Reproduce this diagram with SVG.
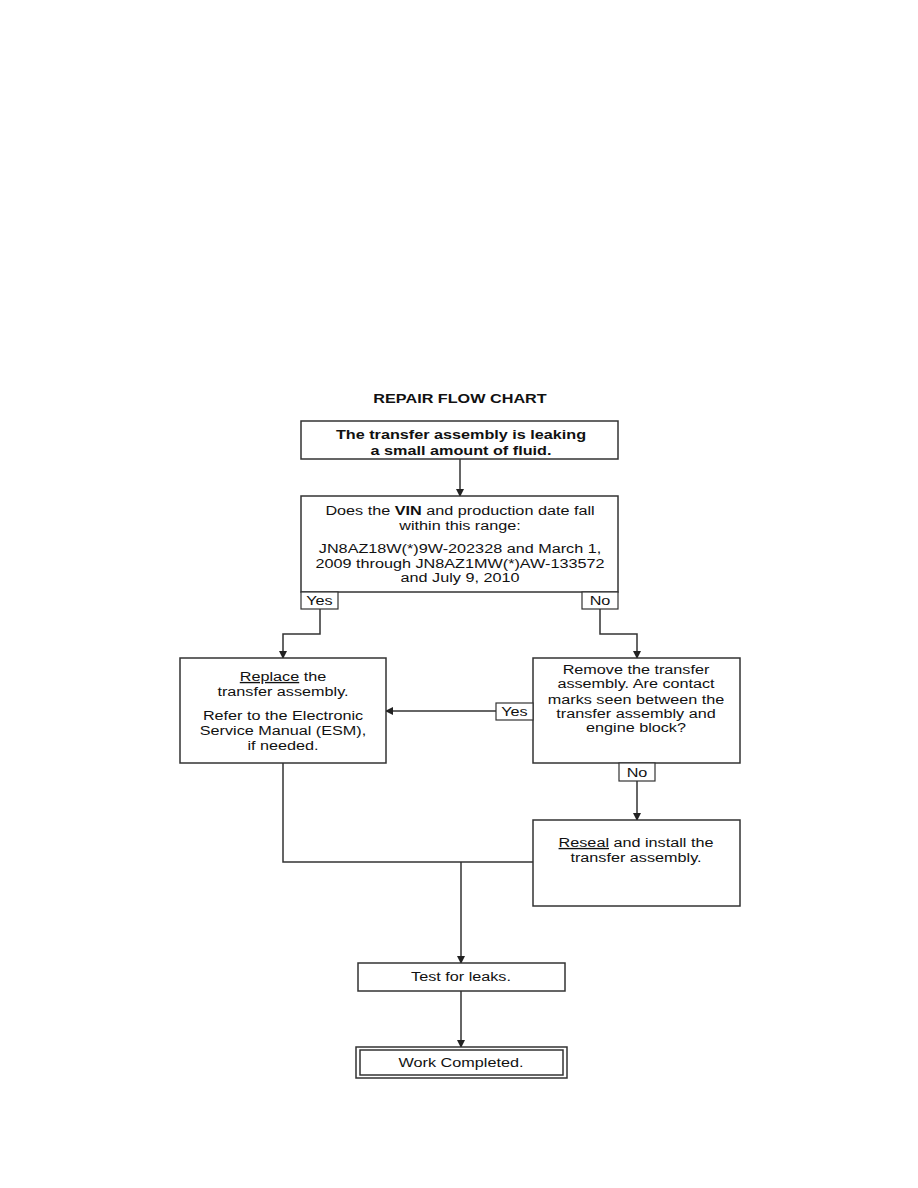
<svg xmlns="http://www.w3.org/2000/svg" width="918" height="1188" viewBox="0 0 918 1188">
<style>
.box{fill:#fff;stroke:#333;stroke-width:1.5}
.lbl{fill:#fff;stroke:#333;stroke-width:1.2}
.ln{fill:none;stroke:#333;stroke-width:1.5}
text{font-family:"Liberation Sans",Arial,sans-serif;font-size:13.5px;fill:#111;text-anchor:middle}
.b{font-weight:bold}
</style>
<defs>
<marker id="ah" markerWidth="8" markerHeight="8" refX="7" refY="4" orient="auto" markerUnits="userSpaceOnUse">
<path d="M0,0 L8,4 L0,8 Z" fill="#222"/>
</marker>
</defs>
<text class="b" transform="translate(460 403) scale(1.2 1)">REPAIR FLOW CHART</text>
<g id="connectors">
<line class="ln" x1="460" y1="459" x2="460" y2="496" marker-end="url(#ah)"/>
<polyline class="ln" points="320,609 320,634 283,634 283,658" marker-end="url(#ah)"/>
<polyline class="ln" points="600,609 600,634 637,634 637,658" marker-end="url(#ah)"/>
<line class="ln" x1="496" y1="711" x2="386" y2="711" marker-end="url(#ah)"/>
<line class="ln" x1="637" y1="781" x2="637" y2="820" marker-end="url(#ah)"/>
<polyline class="ln" points="283,763 283,862 533,862"/>
<line class="ln" x1="461" y1="862" x2="461" y2="963" marker-end="url(#ah)"/>
<line class="ln" x1="461" y1="991" x2="461" y2="1047" marker-end="url(#ah)"/>
</g>
<g id="start">
<rect class="box" x="301" y="421" width="317" height="38"/>
<text class="b" transform="translate(461 439) scale(1.2 1)">The transfer assembly is leaking</text>
<text class="b" transform="translate(461 455) scale(1.2 1)">a small amount of fluid.</text>
</g>
<g id="vin-check">
<rect class="box" x="301" y="496" width="317" height="96"/>
<text transform="translate(460 515) scale(1.2 1)">Does the <tspan font-weight="bold">VIN</tspan> and production date fall</text>
<text transform="translate(460 530) scale(1.2 1)">within this range:</text>
<text transform="translate(460 553) scale(1.2 1)">JN8AZ18W(*)9W-202328 and March 1,</text>
<text transform="translate(460 568) scale(1.2 1)">2009 through JN8AZ1MW(*)AW-133572</text>
<text transform="translate(460 582) scale(1.2 1)">and July 9, 2010</text>
</g>
<g id="vin-yes">
<rect class="lbl" x="301" y="592" width="37" height="17"/>
<text transform="translate(319.5 605) scale(1.2 1)">Yes</text>
</g>
<g id="vin-no">
<rect class="lbl" x="582" y="592" width="36" height="17"/>
<text transform="translate(600 605) scale(1.2 1)">No</text>
</g>
<g id="replace">
<rect class="box" x="180" y="658" width="206" height="105"/>
<text transform="translate(283 681) scale(1.2 1)"><tspan text-decoration="underline">Replace</tspan> the</text>
<text transform="translate(283 696) scale(1.2 1)">transfer assembly.</text>
<text transform="translate(283 720) scale(1.2 1)">Refer to the Electronic</text>
<text transform="translate(283 735) scale(1.2 1)">Service Manual (ESM),</text>
<text transform="translate(283 750) scale(1.2 1)">if needed.</text>
</g>
<g id="remove">
<rect class="box" x="533" y="658" width="207" height="105"/>
<text transform="translate(636 674) scale(1.2 1)">Remove the transfer</text>
<text transform="translate(636 688) scale(1.2 1)">assembly. Are contact</text>
<text transform="translate(636 704) scale(1.2 1)">marks seen between the</text>
<text transform="translate(636 718) scale(1.2 1)">transfer assembly and</text>
<text transform="translate(636 732) scale(1.2 1)">engine block?</text>
</g>
<g id="remove-yes">
<rect class="lbl" x="496" y="703" width="37" height="17"/>
<text transform="translate(514.5 716) scale(1.2 1)">Yes</text>
</g>
<g id="remove-no">
<rect class="lbl" x="619" y="763" width="36" height="18"/>
<text transform="translate(637 777) scale(1.2 1)">No</text>
</g>
<g id="reseal">
<rect class="box" x="533" y="820" width="207" height="86"/>
<text transform="translate(636 847) scale(1.2 1)"><tspan text-decoration="underline">Reseal</tspan> and install the</text>
<text transform="translate(636 862) scale(1.2 1)">transfer assembly.</text>
</g>
<g id="test">
<rect class="box" x="358" y="963" width="207" height="28"/>
<text transform="translate(461 981) scale(1.2 1)">Test for leaks.</text>
</g>
<g id="done">
<rect class="box" x="356" y="1047" width="211" height="31"/>
<rect class="box" x="360" y="1050" width="203" height="25"/>
<text transform="translate(461 1067) scale(1.2 1)">Work Completed.</text>
</g>
</svg>
